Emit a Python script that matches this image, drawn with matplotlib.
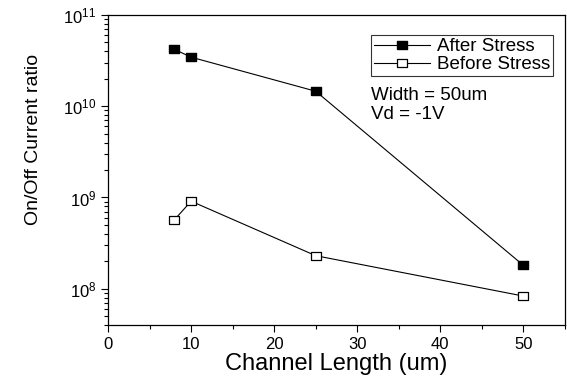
import numpy as np
import matplotlib
matplotlib.use('Agg')
import matplotlib.pyplot as plt
from matplotlib.ticker import LogLocator, NullFormatter

plt.rcParams['font.family'] = ['Liberation Sans', 'DejaVu Sans']
plt.rcParams['mathtext.fontset'] = 'custom'
plt.rcParams['mathtext.rm'] = 'Liberation Sans'

# data
channel_length = [8, 10, 25, 50]
after_stress = [4.2e10, 3.45e10, 1.46e10, 1.8e8]
before_stress = [5.7e8, 9.1e8, 2.3e8, 8.3e7]
x_ticks = [0, 10, 20, 30, 40, 50]

# slightly flattened square, like the source picture
box = [(-1, -0.78), (1, -0.78), (1, 0.78), (-1, 0.78), (-1, -0.78)]

fig = plt.figure(figsize=(5.67, 3.78), dpi=100)
ax = fig.add_axes([108 / 567, 1 - 325 / 378, (565 - 108) / 567, (325 - 15) / 378])

ax.plot(channel_length, after_stress, color='black', lw=0.8, marker=box, ms=7.5,
        mfc='black', mec='black', label='After Stress')
ax.plot(channel_length, before_stress, color='black', lw=0.8, marker=box, ms=7.5,
        mfc='white', mec='black', mew=0.9, label='Before Stress')

ax.set_yscale('log')
ax.set_ylim(4.0e7, 1e11)
ax.set_xlim(0, 55)
ax.set_xticks(x_ticks)
ax.set_xticks([5, 15, 25, 35, 45, 55], minor=True)
ax.yaxis.set_major_locator(LogLocator(base=10, numticks=10))
ax.yaxis.set_minor_locator(LogLocator(base=10, subs=np.arange(2, 10), numticks=10))
ax.yaxis.set_minor_formatter(NullFormatter())
ax.tick_params(axis='both', which='major', direction='out', length=5, width=0.8, labelsize=12)
ax.tick_params(axis='both', which='minor', direction='out', length=3, width=0.8)
for s in ax.spines.values():
    s.set_linewidth(0.9)

ax.set_xlabel('Channel Length (um)', fontsize=17, labelpad=1)
ax.set_ylabel('On/Off Current ratio', fontsize=14)
ax.yaxis.set_label_coords(-0.145, 0.6)

leg = ax.legend(loc='upper right', bbox_to_anchor=(0.973, 0.935), fontsize=13.5,
                frameon=True, fancybox=False, edgecolor='black', handlelength=3.0,
                handletextpad=0.35, borderpad=0.15, labelspacing=0.05, borderaxespad=0)
leg.get_frame().set_linewidth(0.8)

ax.text(0.575, 0.725, 'Width = 50um', transform=ax.transAxes, fontsize=13.5)
ax.text(0.575, 0.665, 'Vd = -1V', transform=ax.transAxes, fontsize=13.5)

fig.savefig('out.png', dpi=100)
